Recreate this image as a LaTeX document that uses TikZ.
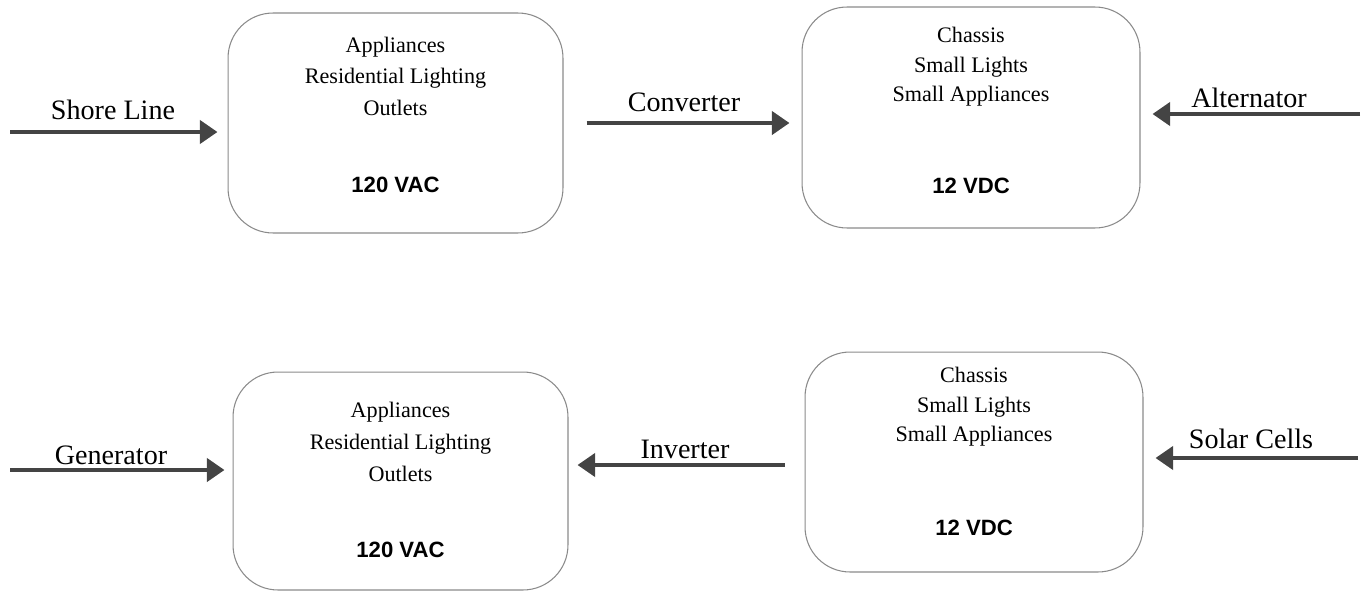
\documentclass[tikz,border=0pt]{standalone}
\usepackage{fontspec}
\setmainfont{Liberation Serif}
\setsansfont{Liberation Sans}
\usetikzlibrary{arrows.meta}
\usetikzlibrary{calc}

\definecolor{feedgray}{HTML}{444444}
\definecolor{boxgray}{HTML}{8A8A8A}

\tikzset{
  power/.style 2 args={draw=boxgray, line width=0.6pt, rounded corners=0.9cm,
    minimum width=#1, minimum height=#2, inner sep=0pt},
  items/.style={font=\fontsize{12.6}{#1}\selectfont, align=center, anchor=north, inner sep=0pt},
  volts/.style={font=\sffamily\bfseries\fontsize{12.6}{15}\selectfont, anchor=base, inner sep=0pt},
  srclabel/.style={font=\fontsize{16}{18}\selectfont, inner sep=0pt},
  feed/.style={draw=feedgray, line width=2.8pt, -{Triangle[length=10pt,width=13pt]}}
}

\begin{document}
\begin{tikzpicture}[x=0.02cm,y=-0.02cm]
\useasboundingbox (0,0) rectangle (1369,592);

% load boxes
\node[power={6.7cm}{4.4cm}] (ac1) at (395.5,123) {};
\node[power={6.76cm}{4.42cm}] (dc1) at (971,117.5) {};
\node[power={6.7cm}{4.36cm}] (ac2) at (400.5,481) {};
\node[power={6.76cm}{4.4cm}] (dc2) at (974,462) {};

% box texts
\node[items=17.9pt] (ac1list) at ($(ac1.north)+(0,24)$) {Appliances\\Residential Lighting\\Outlets};
\node[volts] (ac1v) at ($(ac1.south)+(0,-41)$) {120 VAC};
\node[items=17pt] (dc1list) at ($(dc1.north)+(0,20)$) {Chassis\\Small Lights\\Small Appliances};
\node[volts] (dc1v) at ($(dc1.south)+(0,-35)$) {12 VDC};
\node[items=18.3pt] (ac2list) at ($(ac2.north)+(0,30)$) {Appliances\\Residential Lighting\\Outlets};
\node[volts] (ac2v) at ($(ac2.south)+(0,-33)$) {120 VAC};
\node[items=17pt] (dc2list) at ($(dc2.north)+(0,15)$) {Chassis\\Small Lights\\Small Appliances};
\node[volts] (dc2v) at ($(dc2.south)+(0,-37)$) {12 VDC};

% sources
\node[srclabel] (shoreL) at (113,110) {Shore Line};
\node[srclabel] (convL) at (684,102) {Converter};
\node[srclabel] (altL) at (1249,98) {Alternator};
\node[srclabel] (genL) at (111,455) {Generator};
\node[srclabel] (invL) at (685,449) {Inverter};
\node[srclabel] (solarL) at (1251,439) {Solar Cells};

\coordinate (shore) at (10,132);
\coordinate (conv) at (0,123);
\coordinate (alt) at (1360,114);
\coordinate (gen) at (10,470);
\coordinate (inv) at (0,465);
\coordinate (solar) at (1358,458);

\draw[feed] (shore) -- ($(shore -| ac1.west)+(-10,0)$);
\draw[feed] ($(ac1.east |- conv)+(23,0)$) -- ($(dc1.west |- conv)+(-12,0)$);
\draw[feed] (alt) -- ($(alt -| dc1.east)+(12,0)$);
\draw[feed] (gen) -- ($(gen -| ac2.west)+(-8,0)$);
\draw[feed] ($(dc2.west |- inv)+(-20,0)$) -- ($(ac2.east |- inv)+(9,0)$);
\draw[feed] (solar) -- ($(solar -| dc2.east)+(12,0)$);
\end{tikzpicture}
\end{document}
